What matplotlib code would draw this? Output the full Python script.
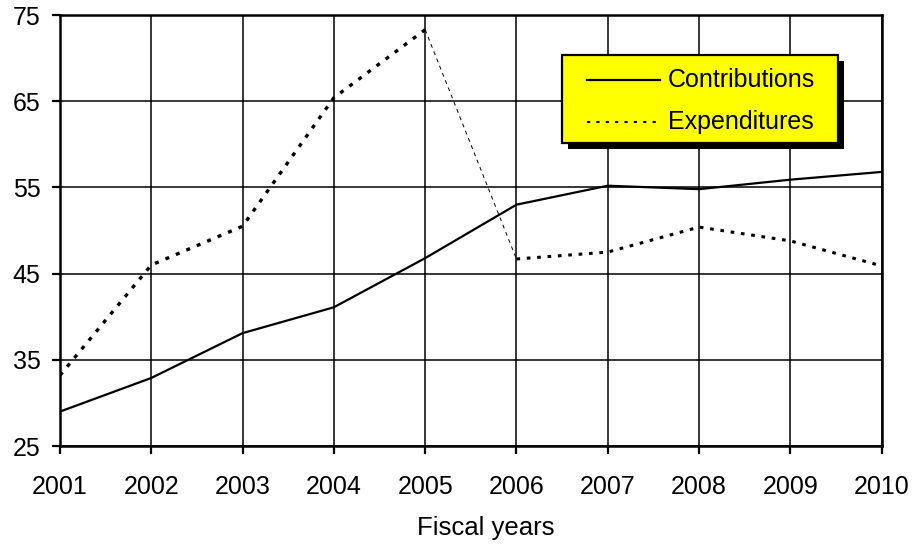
import matplotlib.pyplot as plt
from matplotlib.lines import Line2D
from matplotlib.patches import Rectangle

plt.rcParams['font.family'] = ['Liberation Sans', 'DejaVu Sans']

years = [2001, 2002, 2003, 2004, 2005, 2006, 2007, 2008, 2009, 2010]
contributions = [29.0, 32.9, 38.1, 41.1, 46.8, 53.0, 55.2, 54.8, 55.9, 56.8]
expenditures = [33.2, 46.0, 50.5, 65.4, 73.3, 46.7, 47.5, 50.4, 48.8, 45.9]
y_ticks = [25, 35, 45, 55, 65, 75]
series_names = ['Contributions', 'Expenditures']

fig = plt.figure(figsize=(9.14, 5.44), dpi=100)
ax = fig.add_axes([0.0656, 0.18, 0.899, 0.7924])

ax.set_xlim(2001, 2010)
ax.set_ylim(25, 75)
ax.set_xticks(years)
ax.set_yticks(y_ticks)
ax.grid(True, color='black', linewidth=1.1)
ax.set_axisbelow(True)
for s in ax.spines.values():
    s.set_linewidth(1.8)
ax.tick_params(direction='out', length=6, width=1.6, labelsize=18)
ax.tick_params(axis='x', pad=15)
ax.tick_params(axis='y', pad=8)

ax.plot(years, contributions, color='black', linewidth=1.6)
# the drop from 2005 to 2006 is drawn with a finer dash
ax.plot(years[:5], expenditures[:5], color='black', linewidth=2.4,
        dashes=(1.2, 2.2))
ax.plot(years[4:6], expenditures[4:6], color='black', linewidth=0.7,
        dashes=(4, 4))
ax.plot(years[5:], expenditures[5:], color='black', linewidth=2.2,
        dashes=(1.2, 2.2))

ax.set_xlabel('Fiscal years', fontsize=18.5, labelpad=12, x=0.518)

# legend box with a hard black drop shadow
tr = ax.transAxes
box_x, box_y, box_w, box_h = 0.6107, 0.703, 0.3358, 0.2042
ax.add_patch(Rectangle((box_x + 0.0073, box_y - 0.0139), box_w, box_h,
                       transform=tr, facecolor='black', edgecolor='none',
                       zorder=4, clip_on=False))
ax.add_patch(Rectangle((box_x, box_y), box_w, box_h, transform=tr,
                       facecolor='#ffff00', edgecolor='black', linewidth=1.6,
                       zorder=5, clip_on=False))
row_y = [0.849, 0.752]
ax.add_line(Line2D([0.641, 0.730], [row_y[0], row_y[0]], transform=tr,
                   color='black', linewidth=1.6, zorder=6))
ax.add_line(Line2D([0.641, 0.730], [row_y[1], row_y[1]], transform=tr,
                   color='black', linewidth=1.5, dashes=(1.5, 3), zorder=6))
for name, yy in zip(series_names, row_y):
    ax.text(0.7397, yy, name, transform=tr, fontsize=18, va='center',
            ha='left', zorder=6)

fig.savefig('out.png', dpi=100)
